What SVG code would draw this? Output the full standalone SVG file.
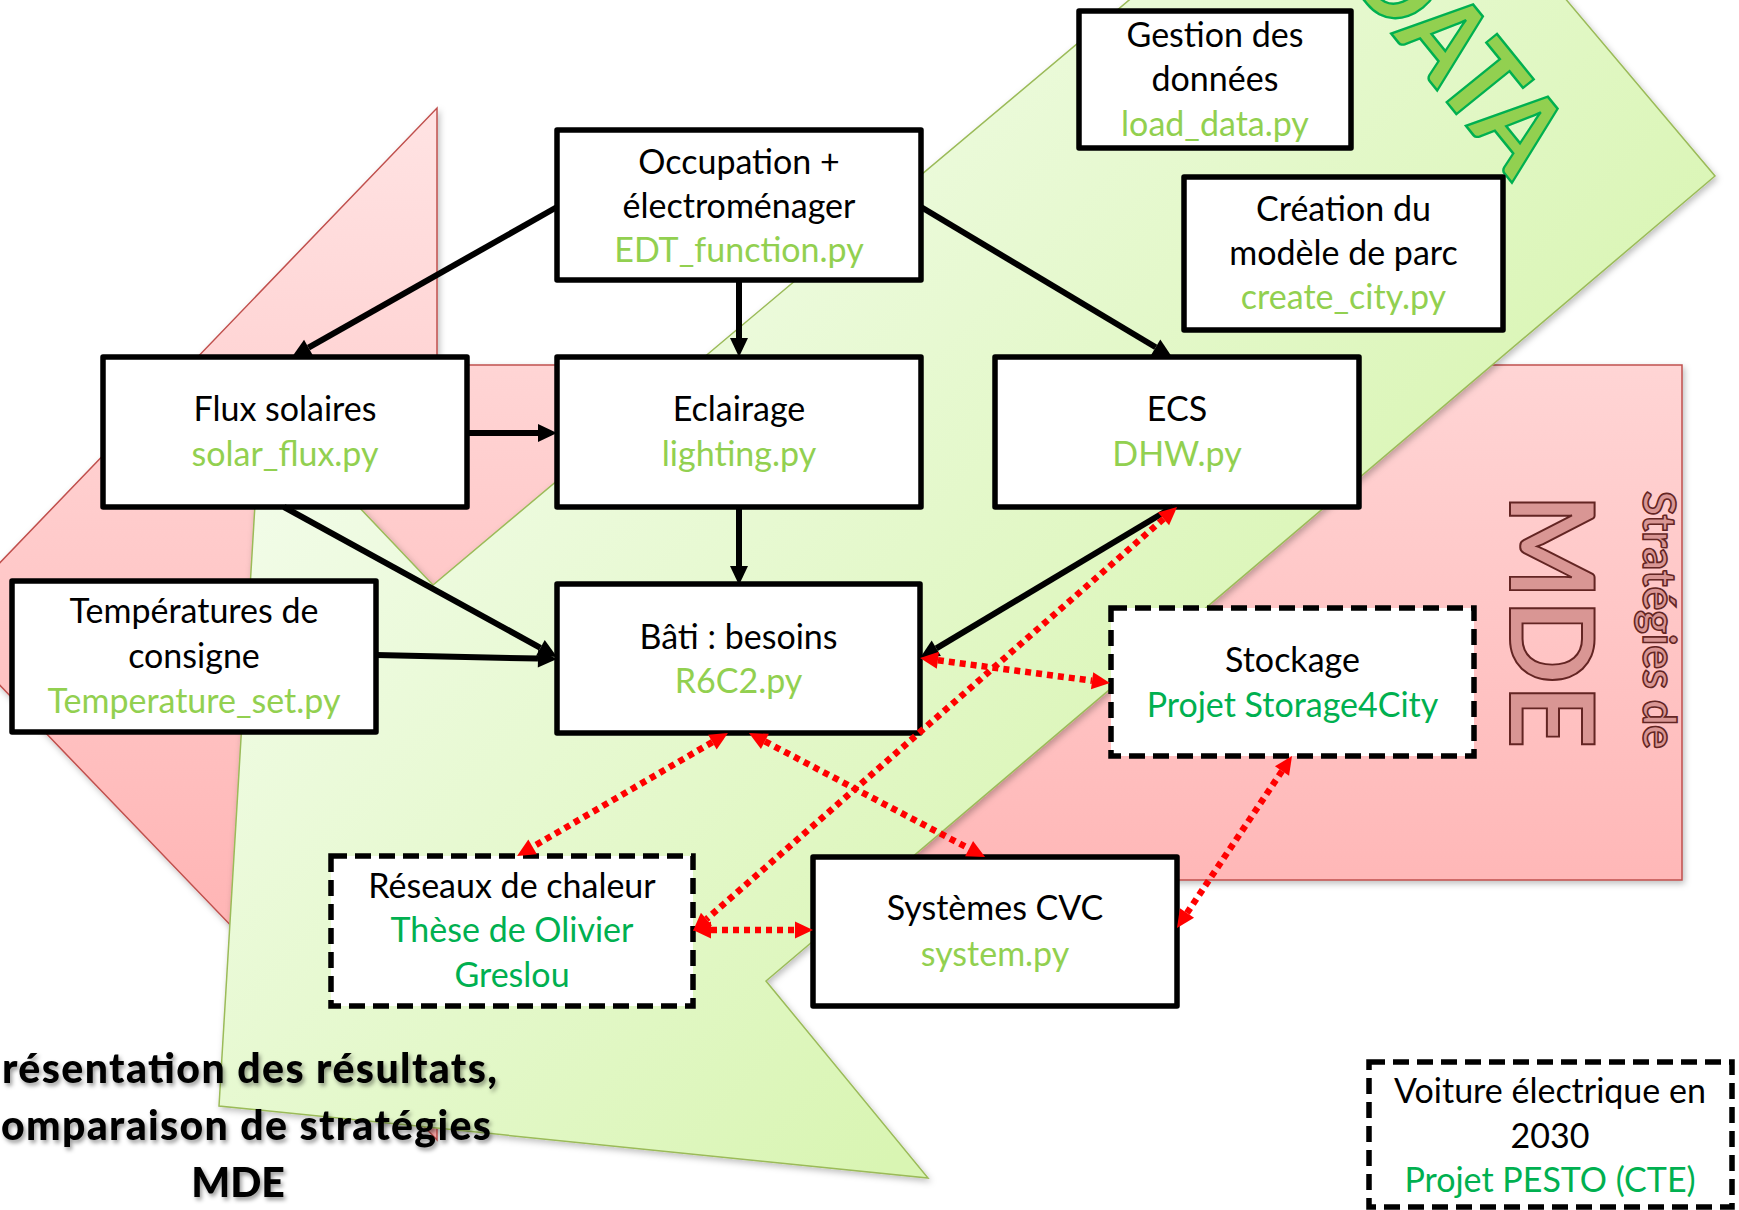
<svg xmlns="http://www.w3.org/2000/svg" width="1739" height="1210" viewBox="0 0 1739 1210">
<defs>
<style>
.box{fill:#fff;stroke:#000;stroke-width:5.5;stroke-linejoin:round}
.dash{stroke-dasharray:16 8;stroke-linejoin:miter}
.t{font-family:Lato,"Liberation Sans",sans-serif;font-size:34px;text-anchor:middle;fill:#000}
.py{fill:#92D050}
.pj{fill:#00B050}
.blk{stroke:#000;stroke-width:6;fill:none;marker-end:url(#ah)}
.red{stroke:#FF0000;stroke-width:6.5;stroke-dasharray:6 5;fill:none;marker-start:url(#rh);marker-end:url(#rh)}
.big{font-family:Lato,"Liberation Sans",sans-serif;text-anchor:middle}
.mde{fill:#D99694;stroke:#632523}
.res{font-family:Lato,"Liberation Sans",sans-serif;font-weight:900;font-size:41px;fill:#000}
</style>
<linearGradient id="gg" gradientUnits="userSpaceOnUse" x1="220" y1="500" x2="900" y2="1150">
<stop offset="0" stop-color="#F2FCE9"/><stop offset="1" stop-color="#D9F5B3"/>
</linearGradient>
<linearGradient id="pg" gradientUnits="userSpaceOnUse" x1="0" y1="108" x2="0" y2="1140">
<stop offset="0" stop-color="#FFE3E3"/><stop offset="1" stop-color="#FFA9A9"/>
</linearGradient>
<filter id="sh" x="-10%" y="-10%" width="120%" height="120%">
<feDropShadow dx="2" dy="3" stdDeviation="3" flood-color="#000" flood-opacity="0.25"/>
</filter>
<filter id="ts" x="-10%" y="-30%" width="120%" height="160%">
<feDropShadow dx="2" dy="3" stdDeviation="2" flood-color="#000" flood-opacity="0.4"/>
</filter>
<marker id="ah" markerUnits="userSpaceOnUse" markerWidth="19" markerHeight="18" viewBox="0 0 19 18" refX="0" refY="9" orient="auto" overflow="visible">
<path d="M0,0 L19,9 L0,18 z" fill="#000"/>
</marker>
<marker id="rh" markerUnits="userSpaceOnUse" markerWidth="18" markerHeight="17" viewBox="0 0 18 17" refX="0" refY="8.5" orient="auto-start-reverse" overflow="visible">
<path d="M0,0 L18,8.5 L0,17 z" fill="#FF0000"/>
</marker>
</defs>

<g id="background">
<polygon id="pink-arrow" points="-59,624 437,108 437,365 1682,365 1682,880 437,880 437,1140" fill="url(#pg)" stroke="#C0504D" stroke-width="1.5" filter="url(#sh)"/>
<polygon id="green-arrow" points="1385,-215 1715,176 766,981 928,1178 219,1106 261,404 433,585" fill="url(#gg)" stroke="#9BBB59" stroke-width="1.5" filter="url(#sh)"/>
<text class="big" transform="translate(1428,79) rotate(51)" font-size="113" font-weight="900" fill="#92D050" stroke="#00B050" stroke-width="2.5" textLength="265" lengthAdjust="spacingAndGlyphs">DATA</text>
<text class="big mde" transform="translate(1510,621) rotate(90)" font-size="116" font-weight="bold" stroke-width="2" textLength="255" lengthAdjust="spacingAndGlyphs">MDE</text>
<text class="big mde" transform="translate(1643,620) rotate(90)" font-size="46" font-weight="bold" stroke-width="1.6" textLength="258" lengthAdjust="spacingAndGlyphs">Stratégies de</text>
</g>

<g id="node-occupation">
<rect class="box" x="557" y="130" width="364" height="150"/>
<text class="t" x="739" y="174">Occupation +</text>
<text class="t" x="739" y="218">électroménager</text>
<text class="t py" x="739" y="262">EDT_function.py</text>
</g>
<g id="node-gestion">
<rect class="box" x="1079" y="11" width="272" height="137"/>
<text class="t" x="1215" y="47">Gestion des</text>
<text class="t" x="1215" y="91">données</text>
<text class="t py" x="1215" y="136">load_data.py</text>
</g>
<g id="node-creation">
<rect class="box" x="1184" y="177" width="319" height="153"/>
<text class="t" x="1343.5" y="221">Création du</text>
<text class="t" x="1343.5" y="265">modèle de parc</text>
<text class="t py" x="1343.5" y="309">create_city.py</text>
</g>
<g id="node-flux">
<rect class="box" x="103" y="357" width="364" height="150"/>
<text class="t" x="285" y="421">Flux solaires</text>
<text class="t py" x="285" y="466">solar_flux.py</text>
</g>
<g id="node-eclairage">
<rect class="box" x="557" y="357" width="364" height="150"/>
<text class="t" x="739" y="421">Eclairage</text>
<text class="t py" x="739" y="466">lighting.py</text>
</g>
<g id="node-ecs">
<rect class="box" x="995" y="357" width="364" height="150"/>
<text class="t" x="1177" y="421">ECS</text>
<text class="t py" x="1177" y="466">DHW.py</text>
</g>
<g id="node-temperatures">
<rect class="box" x="12" y="581" width="364" height="151"/>
<text class="t" x="194" y="623">Températures de</text>
<text class="t" x="194" y="668">consigne</text>
<text class="t py" x="194" y="713">Temperature_set.py</text>
</g>
<g id="node-bati">
<rect class="box" x="557" y="584" width="363" height="149"/>
<text class="t" x="738.5" y="649">Bâti : besoins</text>
<text class="t py" x="738.5" y="693">R6C2.py</text>
</g>
<g id="node-stockage">
<rect class="box dash" x="1111" y="608" width="363" height="148"/>
<text class="t" x="1292.5" y="672">Stockage</text>
<text class="t pj" x="1292.5" y="717">Projet Storage4City</text>
</g>
<g id="node-reseaux">
<rect class="box dash" x="331" y="856" width="362" height="150"/>
<text class="t" x="512" y="898">Réseaux de chaleur</text>
<text class="t pj" x="512" y="942">Thèse de Olivier</text>
<text class="t pj" x="512" y="987">Greslou</text>
</g>
<g id="node-cvc">
<rect class="box" x="813" y="857" width="364" height="149"/>
<text class="t" x="995" y="920">Systèmes CVC</text>
<text class="t py" x="995" y="966">system.py</text>
</g>
<g id="node-voiture">
<rect class="box dash" x="1369" y="1062" width="363" height="145"/>
<text class="t" x="1550" y="1103">Voiture électrique en</text>
<text class="t" x="1550" y="1148">2030</text>
<text class="t pj" x="1550" y="1192">Projet PESTO (CTE)</text>
</g>

<g id="connectors">
<line class="blk" x1="557" y1="207" x2="308.5" y2="347.6"/>
<line class="blk" x1="739" y1="280" x2="739" y2="338"/>
<line class="blk" x1="921" y1="207" x2="1155.7" y2="347.3"/>
<line class="blk" x1="467" y1="433" x2="538" y2="433"/>
<line class="blk" x1="739" y1="507" x2="739" y2="566"/>
<line class="blk" x1="284" y1="507" x2="540.4" y2="647.8"/>
<line class="blk" x1="376" y1="655" x2="538" y2="658.6"/>
<line class="blk" x1="1173" y1="507" x2="936.3" y2="648.3"/>
<line class="red" x1="937.9" y1="660.3" x2="1092.1" y2="680.7"/>
<line class="red" x1="712.4" y1="742.1" x2="532.6" y2="846.9"/>
<line class="red" x1="764.9" y1="741.4" x2="969.1" y2="848.6"/>
<line class="red" x1="1163.5" y1="518.9" x2="706.5" y2="919.1"/>
<line class="red" x1="711" y1="930" x2="795" y2="930"/>
<line class="red" x1="1282" y1="771" x2="1187" y2="913"/>
</g>

<g id="caption" filter="url(#ts)">
<text class="res" x="2" y="1083" textLength="495">résentation des résultats,</text>
<text class="res" x="1" y="1140" textLength="490">omparaison de stratégies</text>
<text class="res" x="238" y="1197" text-anchor="middle">MDE</text>
</g>
</svg>
